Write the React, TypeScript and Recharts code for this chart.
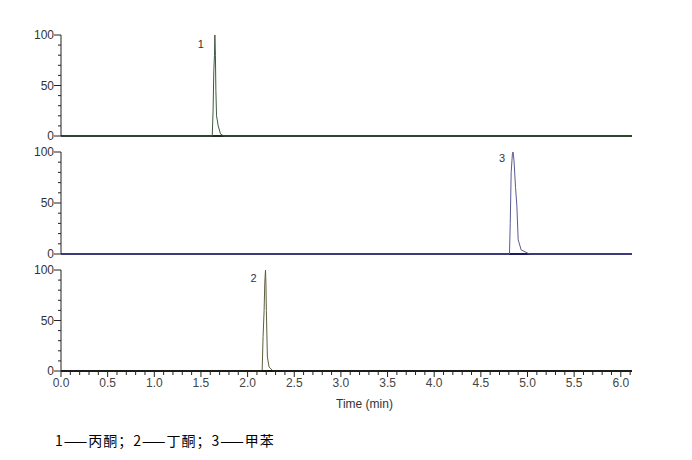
import React from 'react';
import { LineChart, Line, XAxis, YAxis, ReferenceLine, LabelList } from 'recharts';

// retention times (min) and relative abundance (%) for each trace
const acetoneTime = [0, 1.621, 1.63, 1.638, 1.645, 1.649, 1.655, 1.66, 1.667, 1.685, 1.71, 1.745, 6.12];
const acetoneValue = [0, 0, 25, 65, 80, 100, 80, 45, 20, 10, 2, 0, 0];

const tolueneTime = [0, 4.807, 4.815, 4.825, 4.838, 4.845, 4.855, 4.872, 4.886, 4.9, 4.932, 5.02, 6.12];
const tolueneValue = [0, 0, 30, 80, 98, 100, 92, 65, 47, 14, 4, 0, 0];

const butanoneTime = [0, 2.156, 2.166, 2.177, 2.184, 2.192, 2.197, 2.201, 2.212, 2.23, 2.273, 6.12];
const butanoneValue = [0, 0, 34, 60, 87, 100, 85, 60, 14, 4, 0, 0];

const peakNames = ['1', '3', '2'];
const xTickLabels = ['0.0', '0.5', '1.0', '1.5', '2.0', '2.5', '3.0', '3.5', '4.0', '4.5', '5.0', '5.5', '6.0'];
const yTickLabels = ['0', '50', '100'];
const caption = '1——丙酮；2——丁酮；3——甲苯';

const W = 692;
const H = 460;
const FONT = '"Liberation Sans", Arial, sans-serif';

const yTicks = Array.from({ length: 11 }, (_, i) => i * 10);
const xTicks = Array.from({ length: 62 }, (_, i) => i / 10);

const YTick = (props: any) => {
  const { x, y, payload } = props;
  const major = yTickLabels.includes(String(payload.value));
  return (
    <g>
      <line x1={x - (major ? 7 : 3)} x2={x} y1={y} y2={y} stroke="#222" strokeWidth={1} />
      {major && (
        <text x={x - 7} y={y} dy={4} textAnchor="end" fontSize={12} fill="#333" fontFamily={FONT}>
          {payload.value}
        </text>
      )}
    </g>
  );
};

const XTick = (props: any) => {
  const { x, y, payload } = props;
  const label = payload.value.toFixed(1);
  const major = xTickLabels.includes(label);
  return (
    <g>
      <line x1={x} x2={x} y1={y} y2={y + (major ? 6 : 4)} stroke="#222" strokeWidth={1} />
      {major && (
        <text x={x} y={y} dy={16} textAnchor="middle" fontSize={12} fill="#444" fontFamily={FONT}>
          {label}
        </text>
      )}
    </g>
  );
};

const makePeakLabel = (name: string, dx: number, dy: number) => (props: any) => {
  const { x, y, value } = props;
  if (value !== 100) return null;
  return (
    <text x={x + dx} y={y + dy} textAnchor="middle" fontSize={11} fill="#333" fontFamily={FONT}>
      {name}
    </text>
  );
};

interface PanelProps {
  times: number[];
  values: number[];
  top: number;
  bottom: number;
  color: string;
  baseColor: string;
  name: string;
  labelDx: number;
  labelDy: number;
  showX?: boolean;
}

const Panel: React.FC<PanelProps> = ({ times, values, top, bottom, color, baseColor, name, labelDx, labelDy, showX }) => {
  const data = times.map((t, i) => ({ t, v: values[i] }));
  const xh = showX ? 40 : 0;
  return (
    <div style={{ position: 'absolute', left: 0, top: 0 }}>
      <LineChart width={W} height={H} data={data} margin={{ top, right: W - 632, left: 0, bottom: H - bottom - xh }}>
        <XAxis
          dataKey="t"
          type="number"
          domain={[0, 6.12]}
          ticks={xTicks}
          hide={!showX}
          height={xh}
          axisLine={{ stroke: '#111', strokeWidth: 1.5 }}
          tickLine={false}
          tickSize={0}
          tickMargin={0}
          tick={<XTick />}
          interval={0}
          label={{ value: 'Time (min)', position: 'insideBottom', offset: 3, dx: 18, fontSize: 12, fill: '#333', fontFamily: FONT }}
        />
        <YAxis
          type="number"
          domain={[0, 100]}
          ticks={yTicks}
          width={61}
          interval={0}
          axisLine={{ stroke: '#222' }}
          tickLine={false}
          tickSize={0}
          tickMargin={0}
          tick={<YTick />}
        />
        <ReferenceLine y={0} stroke={baseColor} strokeWidth={2} />
        <Line dataKey="v" type="linear" stroke={color} strokeWidth={1} dot={false} isAnimationActive={false}>
          <LabelList dataKey="v" content={makePeakLabel(name, labelDx, labelDy)} />
        </Line>
      </LineChart>
    </div>
  );
};

export default function App() {
  return (
    <div style={{ position: 'absolute', left: 0, top: 0, width: W, height: H, background: '#fff' }}>
      <Panel times={acetoneTime} values={acetoneValue} top={35} bottom={136} color="#3d5a3d" baseColor="#1e2e1e" name={peakNames[0]} labelDx={-14} labelDy={13} />
      <Panel times={tolueneTime} values={tolueneValue} top={152} bottom={254} color="#5a5a96" baseColor="#1c1c5c" name={peakNames[1]} labelDx={-11} labelDy={10} />
      <Panel times={butanoneTime} values={butanoneValue} top={270} bottom={371} color="#5e5e3e" baseColor="#222" name={peakNames[2]} labelDx={-12} labelDy={12} showX />
      <div
        style={{
          position: 'absolute',
          left: 55,
          top: 431,
          fontSize: 14,
          lineHeight: '18px',
          letterSpacing: 1,
          fontFamily: '"Noto Sans CJK SC", sans-serif',
          color: '#000',
          whiteSpace: 'nowrap',
        }}
      >
        {caption}
      </div>
    </div>
  );
}
